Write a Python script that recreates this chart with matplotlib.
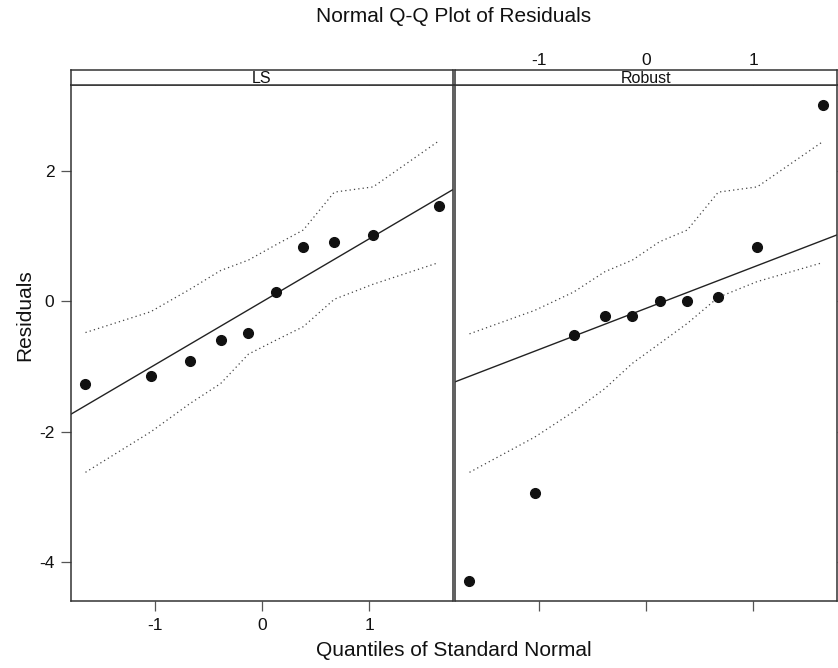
import matplotlib
matplotlib.use("Agg")
import matplotlib.pyplot as plt

plt.rcParams['font.family'] = ['Liberation Sans', 'DejaVu Sans']
plt.rcParams['axes.unicode_minus'] = False

# normal quantiles (n = 10)
quantiles = [-1.645, -1.036, -0.674, -0.385, -0.126, 0.126, 0.385, 0.674, 1.036, 1.645]

# sorted residuals
ls_resid = [-1.27, -1.14, -0.92, -0.59, -0.49, 0.14, 0.83, 0.90, 1.02, 1.45]
rob_resid = [-4.29, -2.94, -0.52, -0.23, -0.23, 0.00, 0.01, 0.06, 0.83, 3.01]

# simulated envelopes (dotted)
ls_upper = [-0.48, -0.16, 0.18, 0.47, 0.63, 0.86, 1.09, 1.67, 1.75, 2.45]
ls_lower = [-2.62, -2.00, -1.57, -1.26, -0.81, -0.60, -0.39, 0.03, 0.26, 0.59]
rob_upper = [-0.50, -0.14, 0.14, 0.45, 0.63, 0.91, 1.09, 1.67, 1.75, 2.44]
rob_lower = [-2.62, -2.08, -1.69, -1.34, -0.95, -0.65, -0.34, 0.06, 0.30, 0.59]

# reference lines: intercept, slope
ls_line = (-0.01, 0.966)
rob_line = (-0.11, 0.632)

panels = ['LS', 'Robust']
xticks = [-1, 0, 1]
yticks = [-4, -2, 0, 2]

W, H = 838, 668
fig = plt.figure(figsize=(W / 100, H / 100), dpi=100)

edge = '#333333'
panel_x = [71, 455]
panel_w = 382
top, bot, strip_top = 85, 601, 70

data = [
    (ls_resid, ls_upper, ls_lower, ls_line),
    (rob_resid, rob_upper, rob_lower, rob_line),
]

for i, name in enumerate(panels):
    resid, upper, lower, (b, m) = data[i]
    ax = fig.add_axes([panel_x[i] / W, 1 - bot / H, panel_w / W, (bot - top) / H])
    ax.plot(quantiles, upper, color='#444444', lw=0.9, ls=(0, (1, 2.5)))
    ax.plot(quantiles, lower, color='#444444', lw=0.9, ls=(0, (1, 2.5)))
    ax.axline((0, b), slope=m, color='#222222', lw=1.0)
    ax.plot(quantiles, resid, 'o', color='#111111', ms=7)
    ax.set_xlim(-1.78, 1.78)
    ax.set_ylim(-4.59, 3.31)
    ax.set_xticks(xticks)
    ax.set_yticks(yticks)
    for s in ax.spines.values():
        s.set_color(edge)
        s.set_linewidth(1.1)
    ax.tick_params(direction='out', length=7, width=0.9, color='#555555',
                   labelsize=12.5, pad=5, labelcolor='#111111')
    if i == 0:
        ax.tick_params(top=True, bottom=True, labeltop=False, labelbottom=True,
                       left=True, right=False, labelleft=True)
    else:
        ax.tick_params(top=True, bottom=True, labeltop=True, labelbottom=False,
                       left=False, right=True, labelleft=False, labelright=False)
    # strip
    sax = fig.add_axes([panel_x[i] / W, 1 - top / H, panel_w / W, (top - strip_top) / H])
    sax.set_xticks([])
    sax.set_yticks([])
    for s in sax.spines.values():
        s.set_color(edge)
        s.set_linewidth(1.1)
    sax.text(0.5, 0.42, name, ha='center', va='center', fontsize=11.5,
             transform=sax.transAxes, color='#111111')

fig.text(454 / W, 1 - 17 / H, 'Normal Q-Q Plot of Residuals', ha='center', va='center',
         fontsize=15, color='#111111')
fig.text(454 / W, 1 - 651 / H, 'Quantiles of Standard Normal', ha='center', va='center',
         fontsize=15, color='#111111')
fig.text(25 / W, 1 - 315 / H, 'Residuals', ha='center', va='center', rotation=90,
         fontsize=15, color='#111111')

fig.savefig('out.png', dpi=100)
